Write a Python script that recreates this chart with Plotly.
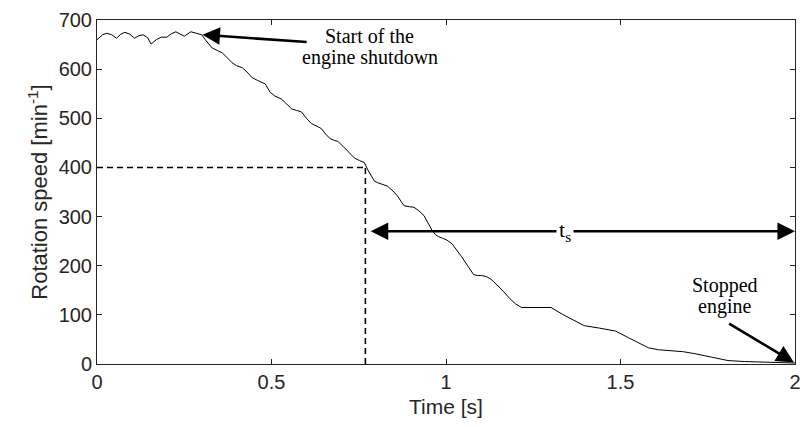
import plotly.graph_objects as go

# Rotation speed trace (time in s, speed in min^-1)
time_s = [0.0, 0.004, 0.016, 0.028, 0.042, 0.056, 0.068, 0.080, 0.094, 0.108,
          0.120, 0.132, 0.145, 0.155, 0.170, 0.184, 0.200, 0.213, 0.226, 0.250,
          0.260, 0.269, 0.285, 0.300, 0.310, 0.330, 0.345, 0.359, 0.375, 0.387,
          0.400, 0.416, 0.430, 0.444, 0.460, 0.482, 0.496, 0.510, 0.529, 0.545,
          0.558, 0.572, 0.586, 0.600, 0.615, 0.630, 0.643, 0.655, 0.667, 0.680,
          0.690, 0.705, 0.719, 0.730, 0.738, 0.752, 0.766, 0.776, 0.785, 0.795,
          0.804, 0.818, 0.832, 0.848, 0.861, 0.872, 0.880, 0.895, 0.908, 0.922,
          0.937, 0.950, 0.960, 0.970, 0.979, 0.990, 1.003, 1.018, 1.031, 1.045,
          1.060, 1.070, 1.079, 1.090, 1.102, 1.115, 1.126, 1.136, 1.145, 1.164,
          1.183, 1.200, 1.216, 1.250, 1.301, 1.334, 1.365, 1.396, 1.440, 1.486,
          1.524, 1.550, 1.580, 1.609, 1.647, 1.680, 1.713, 1.760, 1.808, 1.855,
          1.900, 1.950, 2.000]
speed = [660, 663, 670, 673, 670, 663, 671, 675, 671, 663,
         668, 670, 664, 651, 660, 665, 665, 672, 676, 667,
         672, 676, 673, 670, 660, 643, 638, 633, 622, 613,
         607, 603, 594, 583, 577, 570, 553, 545, 539, 528,
         519, 516, 513, 500, 489, 484, 479, 468, 459, 455,
         453, 443, 433, 424, 419, 414, 410, 395, 385, 372,
         369, 366, 362, 352, 342, 330, 322, 320, 319, 312,
         302, 285, 272, 263, 259, 256, 252, 244, 232, 218,
         202, 190, 182, 180, 180, 178, 174, 168, 162, 148,
         133, 122, 115, 115, 115, 101, 89, 78, 73, 67,
         53, 43, 33, 29, 27, 25, 21, 14, 7, 5,
         4, 3, 2]

x_ticks = [0, 0.5, 1, 1.5, 2]
x_tick_text = ["0", "0.5", "1", "1.5", "2"]
y_ticks = [0, 100, 200, 300, 400, 500, 600, 700]

# reference markers
t_ref = 0.769        # time at which speed = 400
n_ref = 400
ts_level = 270       # height of the t_s arrow
ts_start = 0.78
t_end = 2.0

# annotation arrows: (tail_x, tail_y, head_x, head_y)
start_arrow = [0.605, 655, 0.302, 670]
stop_arrow = [1.807, 84, 1.997, 3]

fig = go.Figure()
fig.add_trace(go.Scatter(x=time_s, y=speed, mode="lines",
                         line=dict(color="black", width=1), showlegend=False,
                         hoverinfo="skip"))

dash = "6px,4px"
fig.add_shape(type="line", x0=0, x1=t_ref, y0=n_ref, y1=n_ref, xref="x", yref="y",
              line=dict(color="black", width=1.6, dash=dash))
fig.add_shape(type="line", x0=t_ref, x1=t_ref, y0=0, y1=n_ref, xref="x", yref="y",
              line=dict(color="black", width=1.6, dash=dash))

serif = "Liberation Serif"
sans = "Liberation Sans"
arrow_style = dict(showarrow=True, arrowhead=2, arrowsize=1.35, arrowwidth=2.6,
                   arrowcolor="black", standoff=0, startstandoff=0)

# double arrow for t_s
fig.add_annotation(x=t_end, y=ts_level, ax=ts_start, ay=ts_level, xref="x", yref="y",
                   axref="x", ayref="y", text="", arrowside="end+start",
                   startarrowhead=2, startarrowsize=1.35, **arrow_style)
fig.add_annotation(x=1.341, y=ts_level, xref="x", yref="y", text="t<sub>s</sub>",
                   showarrow=False, bgcolor="white", borderpad=2,
                   font=dict(family=serif, size=22, color="black"))

for a in (start_arrow, stop_arrow):
    fig.add_annotation(x=a[2], y=a[3], ax=a[0], ay=a[1], xref="x", yref="y",
                       axref="x", ayref="y", text="", **arrow_style)

fig.add_annotation(x=0.781, y=668, xref="x", yref="y", text="Start of the",
                   showarrow=False, font=dict(family=serif, size=20, color="black"))
fig.add_annotation(x=0.781, y=624, xref="x", yref="y", text="engine shutdown",
                   showarrow=False, font=dict(family=serif, size=20, color="black"))
fig.add_annotation(x=1.798, y=160, xref="x", yref="y", text="Stopped",
                   showarrow=False, font=dict(family=serif, size=20, color="black"))
fig.add_annotation(x=1.798, y=118, xref="x", yref="y", text="engine",
                   showarrow=False, font=dict(family=serif, size=20, color="black"))

axis_common = dict(showline=True, linecolor="#262626", linewidth=1, mirror="ticks",
                   ticks="inside", ticklen=5, tickcolor="#262626", showgrid=False,
                   zeroline=False, tickfont=dict(family=sans, size=20, color="#262626"))

fig.update_xaxes(range=[0, 2], tickvals=x_ticks, ticktext=x_tick_text,
                 title=dict(text="Time [s]", font=dict(family=sans, size=21, color="#262626"),
                            standoff=7),
                 **axis_common)
fig.update_yaxes(range=[0, 700], tickvals=y_ticks,
                 title=dict(text="Rotation speed [min<sup>-1</sup>]",
                            font=dict(family=sans, size=22, color="#262626"), standoff=4),
                 **axis_common)

fig.update_layout(width=810, height=427, margin=dict(l=97, r=9, t=15, b=63),
                  plot_bgcolor="white", paper_bgcolor="white")

fig.write_html("out.html")
